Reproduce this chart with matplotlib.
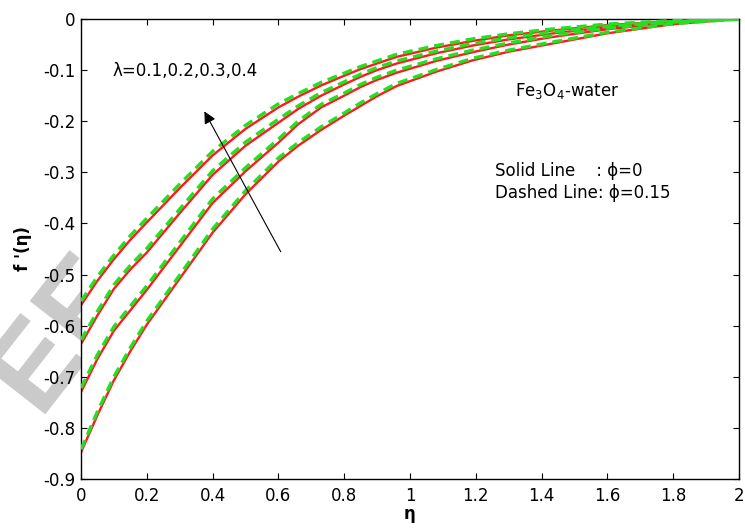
import matplotlib
matplotlib.use("Agg")
import matplotlib.pyplot as plt
import numpy as np

plt.rcParams['font.family'] = ['DejaVu Sans']
plt.rcParams['axes.unicode_minus'] = False

# eta positions the values were read at
eta = [0, 0.05, 0.1, 0.15, 0.2, 0.3, 0.4, 0.5, 0.6, 0.66, 0.73, 0.8, 0.85, 0.9, 0.96,
       1.08, 1.19, 1.3, 1.425, 1.6, 1.8, 2.0]

# solid lines, phi = 0 (top curve lambda = 0.4 ... bottom lambda = 0.1)
solid_1 = [-0.560, -0.512, -0.470, -0.432, -0.398, -0.331, -0.267, -0.215, -0.173, -0.152, -0.130, -0.111, -0.098, -0.087, -0.074,
           -0.056, -0.043, -0.032, -0.023, -0.012, -0.004, 0.0]
solid_2 = [-0.636, -0.580, -0.528, -0.490, -0.457, -0.380, -0.305, -0.248, -0.203, -0.176, -0.150, -0.128, -0.113, -0.100, -0.087,
           -0.067, -0.052, -0.040, -0.029, -0.016, -0.006, 0.0]
solid_3 = [-0.730, -0.665, -0.610, -0.570, -0.530, -0.445, -0.360, -0.298, -0.242, -0.206, -0.173, -0.150, -0.133, -0.119, -0.105,
           -0.082, -0.065, -0.050, -0.036, -0.020, -0.007, 0.0]
solid_4 = [-0.848, -0.775, -0.707, -0.650, -0.598, -0.508, -0.418, -0.343, -0.279, -0.248, -0.217, -0.189, -0.170, -0.151, -0.131,
           -0.103, -0.081, -0.064, -0.049, -0.028, -0.010, 0.0]

# dashed lines, phi = 0.15
dashed_1 = [-0.552, -0.504, -0.462, -0.424, -0.390, -0.323, -0.259, -0.208, -0.166, -0.146, -0.124, -0.106, -0.093, -0.082, -0.069,
            -0.052, -0.039, -0.029, -0.020, -0.010, -0.003, 0.0]
dashed_2 = [-0.628, -0.572, -0.520, -0.482, -0.449, -0.372, -0.297, -0.241, -0.196, -0.170, -0.144, -0.123, -0.108, -0.095, -0.082,
            -0.063, -0.048, -0.037, -0.026, -0.014, -0.005, 0.0]
dashed_3 = [-0.722, -0.657, -0.602, -0.562, -0.522, -0.437, -0.352, -0.291, -0.235, -0.200, -0.167, -0.145, -0.128, -0.114, -0.100,
            -0.078, -0.061, -0.047, -0.033, -0.018, -0.006, 0.0]
dashed_4 = [-0.842, -0.768, -0.700, -0.643, -0.591, -0.501, -0.411, -0.336, -0.272, -0.242, -0.211, -0.184, -0.164, -0.146, -0.126,
            -0.099, -0.077, -0.061, -0.046, -0.026, -0.009, 0.0]

xticks = [0, 0.2, 0.4, 0.6, 0.8, 1, 1.2, 1.4, 1.6, 1.8, 2]
yticks = [0, -0.1, -0.2, -0.3, -0.4, -0.5, -0.6, -0.7, -0.8, -0.9]

fig = plt.figure(figsize=(7.45, 5.29), dpi=100)
ax = fig.add_axes([0.1087, 0.0945, 0.8832, 0.8696])

# faint watermark behind the axes
fig.text(0.085, 0.372, "EE", fontsize=86, fontweight='bold', color='#cacaca',
         family='Liberation Sans', rotation=52, ha='center', va='center',
         rotation_mode='anchor', zorder=-5)

for s in [solid_1, solid_2, solid_3, solid_4]:
    ax.plot(eta, s, color='#ff1a1a', lw=1.7, zorder=2)
for d in [dashed_1, dashed_2, dashed_3, dashed_4]:
    ax.plot(eta, d, color='#22e022', lw=2.4, ls=(0, (3, 1.8)), zorder=3)

ax.set_xlim(0, 2)
ax.set_ylim(-0.9, 0)
ax.set_xticks(xticks)
ax.set_yticks(yticks)
ax.set_xticklabels([f"{v:g}" for v in xticks])
ax.set_yticklabels([f"{v:g}" for v in yticks])
ax.tick_params(direction='in', top=True, right=True, length=4, labelsize=12)
ax.tick_params(axis='x', pad=6)
ax.tick_params(axis='y', pad=4)
for sp in ax.spines.values():
    sp.set_linewidth(1.0)

ax.set_xlabel("η", fontsize=12, fontweight='bold', labelpad=0)
ax.set_ylabel("f '(η)", fontsize=12, fontweight='bold', labelpad=8)

ax.text(0.097, -0.102, "λ=0.1,0.2,0.3,0.4", fontsize=12, va='center')
ax.annotate("", xy=(0.371, -0.176), xytext=(0.611, -0.46),
            arrowprops=dict(arrowstyle='-|>', color='black', lw=0.8,
                            mutation_scale=18))
ax.text(1.319, -0.140, r"Fe$\mathregular{_3}$O$\mathregular{_4}$-water", fontsize=12, va='center')
ax.text(1.258, -0.297, "Solid Line    : ϕ=0", fontsize=12, va='center')
ax.text(1.258, -0.340, "Dashed Line: ϕ=0.15", fontsize=12, va='center')

fig.savefig("out.png", dpi=100)
